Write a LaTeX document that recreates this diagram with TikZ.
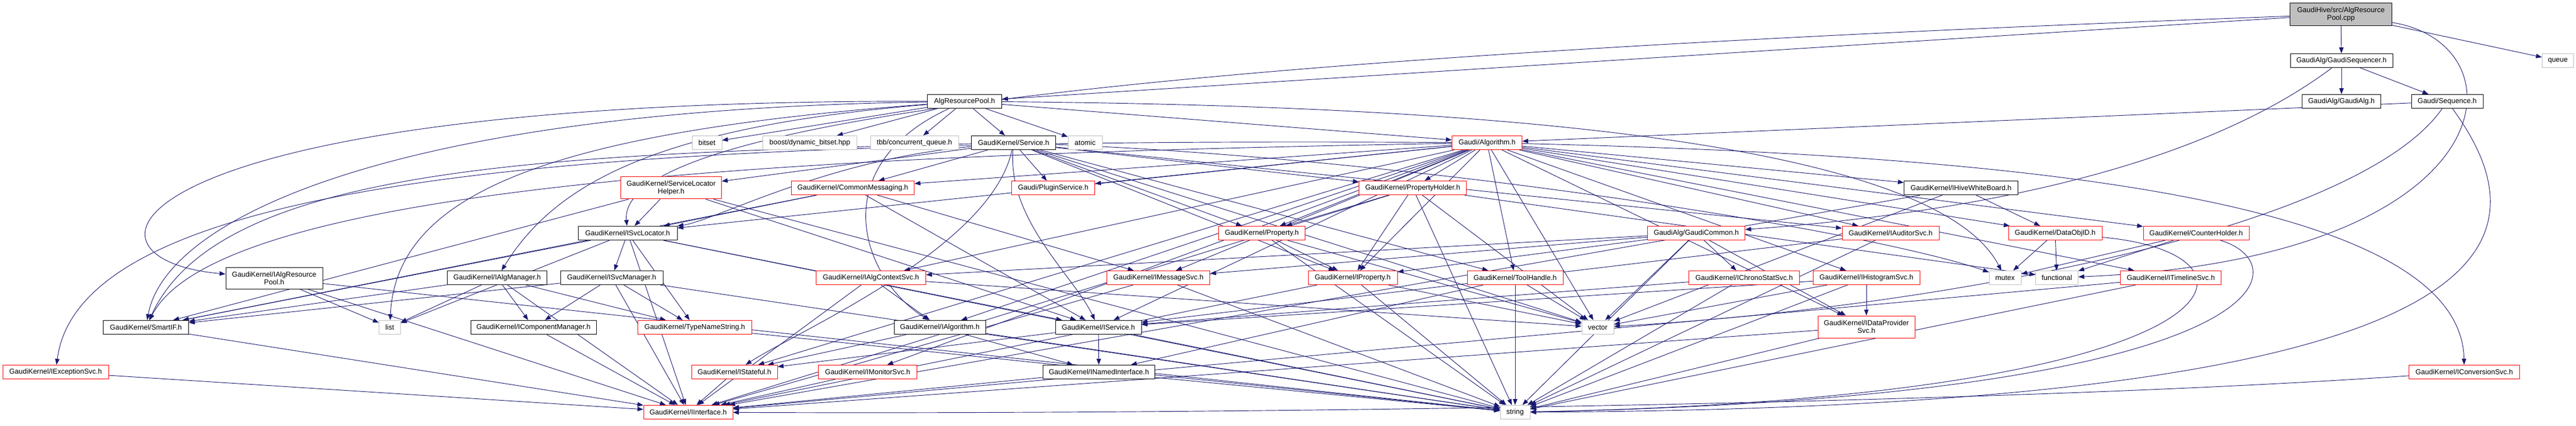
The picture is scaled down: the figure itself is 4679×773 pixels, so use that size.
\documentclass[tikz,border=0pt]{standalone}
\usepackage{fontspec}
\setmainfont{Liberation Sans}
\usetikzlibrary{arrows.meta}
\pgfdeclarelayer{bg}
\pgfsetlayers{bg,main}
\definecolor{edgeblue}{RGB}{25,25,112}
\definecolor{sysgray}{RGB}{191,191,191}
\definecolor{truncred}{RGB}{255,0,0}
\begin{document}
\begin{tikzpicture}[x=0.75pt,y=-0.75pt,
		>={Triangle[length=8pt,width=6pt]},
		box/.style={rectangle,fill=white,line width=0.75pt,inner xsep=2pt,inner ysep=0pt,
			minimum height=19pt,align=center,font=\fontsize{9.7}{10.8}\selectfont,minimum width=#1*0.75pt},
		hdr/.style={box=#1,draw=black},
		trunc/.style={box=#1,draw=truncred},
		sys/.style={box=#1,draw=sysgray},
		src/.style={box=#1,draw=black,fill=sysgray},
		every edge/.style={draw=edgeblue,line width=0.7pt},
		dep/.style={->,draw=edgeblue,line width=0.7pt}]
	\useasboundingbox (0,0) rectangle (4679,773);

	% top rows
	\node[src=185,minimum height=30.75pt] (cpp) at (4252,26) {GaudiHive/src/AlgResource\\Pool.cpp};
	\node[hdr=186] (seqr) at (4253,110) {GaudiAlg/GaudiSequencer.h};
	\node[sys=57] (queue) at (4646,110) {queue};
	\node[hdr=143] (galg) at (4253,184) {GaudiAlg/GaudiAlg.h};
	\node[hdr=130] (seq) at (4445,184) {Gaudi/Sequence.h};
	\node[hdr=135] (arp) at (1752,184) {AlgResourcePool.h};
	\node[sys=54] (bitset) at (1284,259) {bitset};
	\node[sys=171] (dynbit) at (1471,259) {boost/dynamic\_bitset.hpp};
	\node[sys=160] (tbbq) at (1661,259) {tbb/concurrent\_queue.h};
	\node[hdr=153] (svc) at (1841,259) {GaudiKernel/Service.h};
	\node[sys=62] (atomic) at (1971,259) {atomic};
	\node[trunc=127] (galgo) at (2701,259) {Gaudi/Algorithm.h};
	\node[trunc=183,minimum height=30pt] (slh) at (1219,341) {GaudiKernel/ServiceLocator\\Helper.h};
	\node[trunc=223] (cmsg) at (1549,341) {GaudiKernel/CommonMessaging.h};
	\node[trunc=151] (plug) at (1913,341) {Gaudi/PluginService.h};
	\node[trunc=195] (phold) at (2566,341) {GaudiKernel/PropertyHolder.h};
	\node[hdr=207] (hive) at (3562,341) {GaudiKernel/IHiveWhiteBoard.h};
	\node[hdr=180] (isvcl) at (1140,423) {GaudiKernel/ISvcLocator.h};
	\node[trunc=157] (prop) at (2292,423) {GaudiKernel/Property.h};
	\node[trunc=177] (gcom) at (3081,423) {GaudiAlg/GaudiCommon.h};
	\node[trunc=176] (iaud) at (3434,423) {GaudiKernel/IAuditorSvc.h};
	\node[trunc=170] (dobj) at (3733,423) {GaudiKernel/DataObjID.h};
	\node[trunc=192] (chold) at (3989,423) {GaudiKernel/CounterHolder.h};

	% middle rows
	\node[hdr=176,minimum height=29pt] (iarp) at (498,505) {GaudiKernel/IAlgResource\\Pool.h};
	\node[hdr=181] (ialgm) at (903,504) {GaudiKernel/IAlgManager.h};
	\node[hdr=186] (isvcm) at (1111,504) {GaudiKernel/ISvcManager.h};
	\node[trunc=199] (iactx) at (1582,504) {GaudiKernel/IAlgContextSvc.h};
	\node[trunc=187] (imsg) at (2104,504) {GaudiKernel/IMessageSvc.h};
	\node[trunc=162] (iprop) at (2457,504) {GaudiKernel/IProperty.h};
	\node[trunc=174] (tool) at (2752,504) {GaudiKernel/ToolHandle.h};
	\node[trunc=201] (ichrono) at (3168,504) {GaudiKernel/IChronoStatSvc.h};
	\node[trunc=194] (ihist) at (3390,504) {GaudiKernel/IHistogramSvc.h};
	\node[sys=58] (mutex) at (3642,504) {mutex};
	\node[sys=77] (functional) at (3736,504) {functional};
	\node[trunc=183] (itime) at (3943,504) {GaudiKernel/ITimelineSvc.h};
	\node[hdr=155] (smartif) at (265,594) {GaudiKernel/SmartIF.h};
	\node[sys=39] (list) at (708,594) {list};
	\node[hdr=228] (icomp) at (969,594) {GaudiKernel/IComponentManager.h};
	\node[trunc=207] (tns) at (1262,594) {GaudiKernel/TypeNameString.h};
	\node[hdr=166] (ialgo) at (1707,594) {GaudiKernel/IAlgorithm.h};
	\node[hdr=156] (isvc) at (1995,594) {GaudiKernel/IService.h};
	\node[sys=58] (vector) at (2902,594) {vector};
	\node[trunc=176,minimum height=30pt] (idp) at (3390,593) {GaudiKernel/IDataProvider\\Svc.h};

	% bottom rows
	\node[trunc=192] (iexc) at (101,675) {GaudiKernel/IExceptionSvc.h};
	\node[trunc=156] (istate) at (1334,675) {GaudiKernel/IStateful.h};
	\node[trunc=179] (imon) at (1576,675) {GaudiKernel/IMonitorSvc.h};
	\node[hdr=203] (inamed) at (1996,675) {GaudiKernel/INamedInterface.h};
	\node[trunc=201] (iconv) at (4476,675) {GaudiKernel/IConversionSvc.h};
	\node[trunc=162] (iint) at (1250,748) {GaudiKernel/IInterface.h};
	\node[sys=54] (string) at (2752,748) {string};

	\begin{pgfonlayer}{bg}
	% source file
	\path [->] (cpp) edge (seqr);
	\path [->] (cpp) edge (queue);
	\path [->] (cpp) edge (arp);
	\draw [dep] (cpp) .. controls (2200,100) and (1120,210) .. (isvcl);
	\draw [dep] (cpp) .. controls (4590,80) and (4560,470) .. (functional);
	\path [->] (seqr) edge (galg);
	\path [->] (seqr) edge (seq);
	\draw [dep] (seqr) .. controls (4000,300) and (3600,385) .. (gcom);
	\path [->] (seq) edge (galgo);
	\draw [dep] (seq) .. controls (4640,450) and (4560,740) .. (string);
	\draw [dep] (seq) .. controls (4280,420) and (3500,560) .. (vector);

	% AlgResourcePool.h
	\path [->] (arp) edge (bitset);
	\path [->] (arp) edge (dynbit);
	\path [->] (arp) edge (tbbq);
	\path [->] (arp) edge (svc);
	\path [->] (arp) edge (atomic);
	\path [->] (arp) edge (galgo);
	\draw [dep] (arp) .. controls (200,180) and (100,470) .. (iarp);
	\draw [dep] (arp) .. controls (1200,230) and (1010,330) .. (ialgm);
	\draw [dep] (arp) .. controls (1000,240) and (720,350) .. (list);
	\draw [dep] (arp) .. controls (700,200) and (300,400) .. (smartif);
	\draw [dep] (arp) .. controls (1500,300) and (1560,500) .. (ialgo);
	\draw [dep] (arp) .. controls (2500,190) and (3500,230) .. (mutex);

	% Service.h
	\path [->] (svc) edge (slh);
	\path [->] (svc) edge (cmsg);
	\path [->] (svc) edge (plug);
	\path [->] (svc) edge (phold);
	\path [->] (svc) edge (iprop);
	\path [->] (svc) edge (prop);
	\path [->] (svc) edge (iaud);
	\path [->] (svc) edge (tool);
	\path [->] (svc) edge (vector);
	\draw [dep] (svc) .. controls (1500,290) and (1300,400) .. (isvcl);
	\draw [dep] (svc) .. controls (1000,280) and (400,300) .. (smartif);
	\draw [dep] (svc) .. controls (1800,450) and (1450,600) .. (istate);
	\draw [dep] (svc) .. controls (1830,400) and (1950,500) .. (isvc);
	\draw [dep] (svc) .. controls (2600,290) and (3400,420) .. (mutex);

	% Gaudi/Algorithm.h
	\path [->] (galgo) edge (cmsg);
	\path [->] (galgo) edge (plug);
	\path [->] (galgo) edge (phold);
	\path [->] (galgo) edge (hive);
	\path [->] (galgo) edge (prop);
	\path [->] (galgo) edge (iprop);
	\path [->] (galgo) edge (tool);
	\path [->] (galgo) edge (ialgo);
	\path [->] (galgo) edge (isvc);
	\path [->] (galgo) edge (iactx);
	\path [->] (galgo) edge (imsg);
	\path [->] (galgo) edge (imon);
	\path [->] (galgo) edge (istate);
	\path [->] (galgo) edge (dobj);
	\path [->] (galgo) edge (chold);
	\path [->] (galgo) edge (iaud);
	\path [->] (galgo) edge (ihist);
	\path [->] (galgo) edge (idp);
	\path [->] (galgo) edge (itime);
	\path [->] (galgo) edge (vector);
	\path [->] (galgo) edge (isvcl);
	\draw [dep] (galgo) .. controls (1200,250) and (150,300) .. (iexc);
	\draw [dep] (galgo) .. controls (3600,280) and (4470,350) .. (iconv);
	\draw [dep] (galgo) .. controls (1500,280) and (400,330) .. (smartif);

	% second level
	\path [->] (slh) edge (isvcl);
	\path [->] (slh) edge (smartif);
	\path [->] (slh) edge (isvc);
	\path [->] (slh) edge (string);
	\path [->] (cmsg) edge (imsg);
	\path [->] (cmsg) edge (isvcl);
	\path [->] (cmsg) edge (smartif);
	\path [->] (cmsg) edge (isvc);
	\path [->] (phold) edge (iprop);
	\path [->] (phold) edge (prop);
	\path [->] (phold) edge (iint);
	\path [->] (phold) edge (string);
	\path [->] (phold) edge (vector);
	\path [->] (phold) edge (functional);
	\path [->] (hive) edge (dobj);
	\path [->] (hive) edge (iint);
	\path [->] (hive) edge (vector);
	\path [->] (isvcl) edge (isvcm);
	\path [->] (isvcl) edge (smartif);
	\path [->] (isvcl) edge (tns);
	\path [->] (isvcl) edge (list);
	\path [->] (isvcl) edge (string);
	\path [->] (isvcl) edge (iint);
	\path [->] (isvcl) edge (isvc);
	\path [->] (prop) edge (iprop);
	\path [->] (prop) edge (string);
	\path [->] (prop) edge (vector);
	\path [->] (gcom) edge (vector);
	\path [->] (gcom) edge (ichrono);
	\path [->] (gcom) edge (iprop);
	\path [->] (gcom) edge (iactx);
	\path [->] (gcom) edge (imsg);
	\path [->] (gcom) edge (string);
	\path [->] (gcom) edge (idp);
	\path [->] (iaud) edge (isvc);
	\path [->] (iaud) edge (string);
	\path [->] (dobj) edge (mutex);
	\path [->] (dobj) edge (functional);
	\draw [dep] (dobj) .. controls (4150,460) and (4100,720) .. (string);
	\path [->] (chold) edge (mutex);
	\path [->] (chold) edge (functional);
	\draw [dep] (chold) .. controls (4180,480) and (4150,720) .. (string);

	% interfaces
	\path [->] (iarp) edge (list);
	\path [->] (iarp) edge (iint);
	\path [->] (iarp) edge (string);
	\path [->] (ialgm) edge (smartif);
	\path [->] (ialgm) edge (list);
	\path [->] (ialgm) edge (icomp);
	\path [->] (ialgm) edge (tns);
	\path [->] (ialgm) edge (iint);
	\path [->] (isvcm) edge (smartif);
	\path [->] (isvcm) edge (icomp);
	\path [->] (isvcm) edge (tns);
	\path [->] (isvcm) edge (iint);
	\path [->] (isvcm) edge (string);
	\path [->] (iactx) edge (ialgo);
	\path [->] (iactx) edge (iint);
	\path [->] (iactx) edge (vector);
	\path [->] (imsg) edge (iint);
	\path [->] (imsg) edge (string);
	\path [->] (iprop) edge (iint);
	\path [->] (iprop) edge (string);
	\path [->] (iprop) edge (vector);
	\path [->] (tool) edge (inamed);
	\path [->] (tool) edge (string);
	\path [->] (tool) edge (vector);
	\path [->] (ichrono) edge (isvc);
	\path [->] (ichrono) edge (string);
	\path [->] (ihist) edge (idp);
	\path [->] (ihist) edge (vector);
	\path [->] (ihist) edge (string);
	\path [->] (ihist) edge (isvc);
	\path [->] (itime) edge (string);
	\path [->] (itime) edge (iint);
	\path [->] (smartif) edge (iint);
	\path [->] (icomp) edge (iint);
	\path [->] (tns) edge (string);
	\path [->] (ialgo) edge (istate);
	\path [->] (ialgo) edge (inamed);
	\path [->] (ialgo) edge (string);
	\path [->] (isvc) edge (inamed);
	\path [->] (isvc) edge (istate);
	\path [->] (isvc) edge (string);
	\path [->] (idp) edge (iint);
	\path [->] (idp) edge (string);
	\path [->] (iexc) edge (iint);
	\path [->] (istate) edge (iint);
	\path [->] (imon) edge (iint);
	\path [->] (inamed) edge (iint);
	\path [->] (inamed) edge (string);
	\draw [dep] (iconv) .. controls (3600,735) and (2200,752) .. (iint);
	\end{pgfonlayer}
\end{tikzpicture}
\end{document}
